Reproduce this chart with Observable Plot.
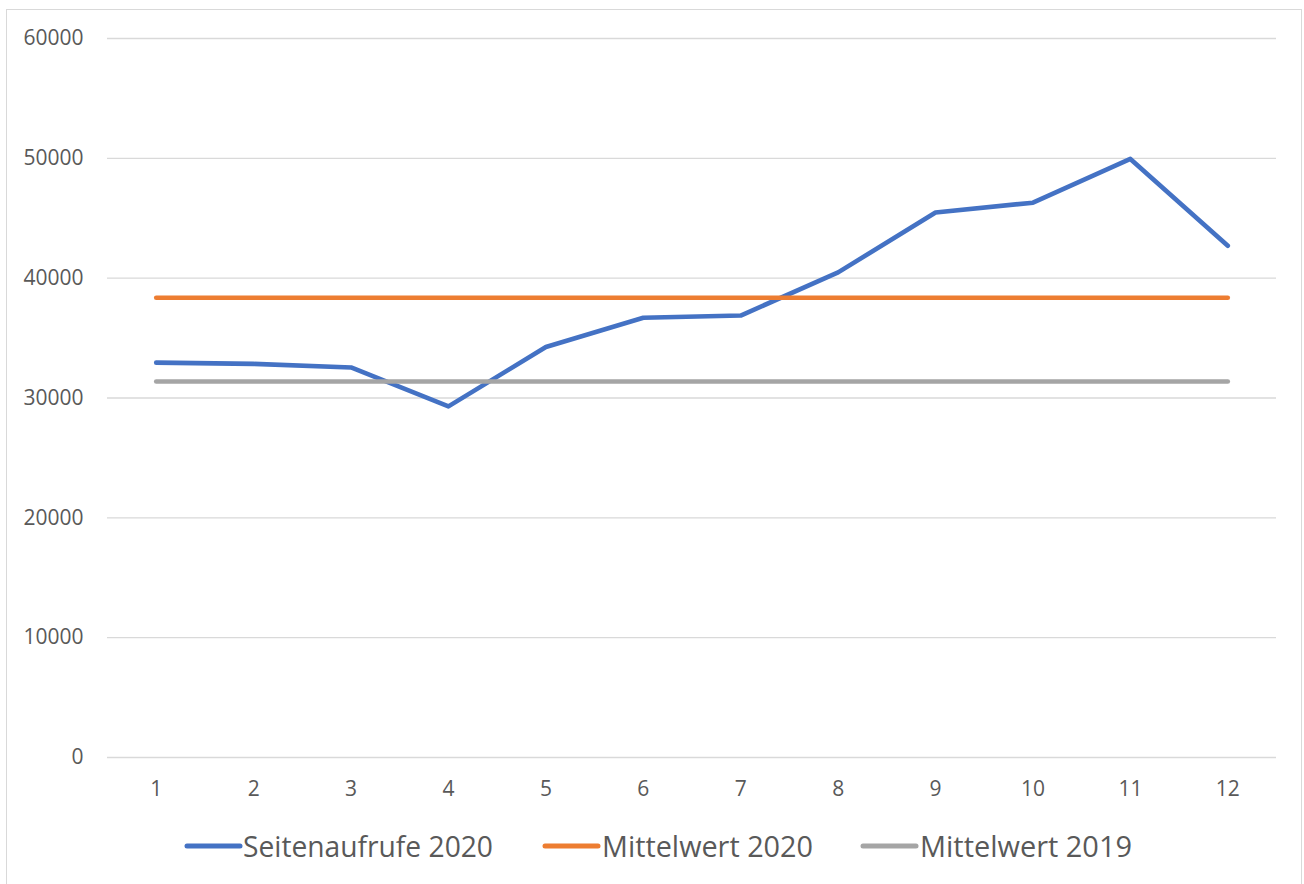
<!DOCTYPE html>
<html>
<head>
<meta charset="utf-8">
<script src="https://cdn.jsdelivr.net/npm/d3@7"></script>
<script src="https://cdn.jsdelivr.net/npm/@observablehq/plot@0.6"></script>
<style>
  html, body { margin: 0; padding: 0; background: #fff; }
  #wrap { position: relative; width: 1304px; height: 884px; overflow: hidden; }
  #frame { position: absolute; left: 6px; top: 9px; width: 1296px; height: 890px; border: 1.5px solid #d9d9d9; box-sizing: border-box; }
  #chart { position: absolute; left: 0; top: 0; }
  #legend { position: absolute; left: 0; top: 810px; }
</style>
</head>
<body>
<div id="wrap">
  <div id="frame"></div>
  <div id="chart"></div>
  <svg id="legend" width="1304" height="74"></svg>
</div>
<script>
const months = [1, 2, 3, 4, 5, 6, 7, 8, 9, 10, 11, 12];
const seitenaufrufe2020 = [32950, 32850, 32550, 29300, 34250, 36700, 36880, 40480, 45480, 46300, 49950, 42700];
const mittelwert2020 = [38360, 38360, 38360, 38360, 38360, 38360, 38360, 38360, 38360, 38360, 38360, 38360];
const mittelwert2019 = [31380, 31380, 31380, 31380, 31380, 31380, 31380, 31380, 31380, 31380, 31380, 31380];
const yTicks = [0, 10000, 20000, 30000, 40000, 50000, 60000];
const seriesNames = ["Seitenaufrufe 2020", "Mittelwert 2020", "Mittelwert 2019"];
const seriesColors = ["#4472C4", "#ED7D31", "#A5A5A5"];

const seriesValues = [seitenaufrufe2020, mittelwert2020, mittelwert2019];
const rows = seriesValues.flatMap((vals, si) =>
  months.map((m, i) => ({ month: m, value: vals[i], series: seriesNames[si] })));

const chart = Plot.plot({
  width: 1304,
  height: 810,
  marginLeft: 107,
  marginRight: 28,
  marginTop: 38,
  marginBottom: 53,
  style: { fontFamily: "'Open Sans', sans-serif", fontSize: "21px", color: "#595959", background: "transparent" },
  x: { type: "point", domain: months, padding: 0.5, round: false },
  y: { domain: [0, 60000] },
  color: { domain: seriesNames, range: seriesColors },
  marks: [
    Plot.gridY(yTicks, { stroke: "#d9d9d9", strokeOpacity: 1, strokeWidth: 1.4 }),
    Plot.axisY(yTicks, { tickSize: 0, tickPadding: 24, label: null, tickFormat: d => String(d) }),
    Plot.axisX(months, { tickSize: 0, tickPadding: 24, label: null }),
    ...seriesNames.map(name => Plot.line(rows.filter(r => r.series === name), {
      x: "month", y: "value", stroke: "series", strokeWidth: 4.6,
      strokeLinecap: "round", strokeLinejoin: "round"
    }))
  ]
});
document.getElementById("chart").appendChild(chart);

// legend
const legend = d3.select("#legend");
const items = [
  { x1: 187, x2: 240, tx: 243, tl: 250 },
  { x1: 545, x2: 598, tx: 602, tl: 211 },
  { x1: 863, x2: 916, tx: 920, tl: 212 }
];
items.forEach((it, i) => {
  legend.append("line")
    .attr("x1", it.x1).attr("x2", it.x2).attr("y1", 36).attr("y2", 36)
    .attr("stroke", seriesColors[i]).attr("stroke-width", 5).attr("stroke-linecap", "round");
  legend.append("text")
    .attr("x", it.tx).attr("y", 47)
    .attr("font-family", "'Open Sans', sans-serif").attr("font-size", 29)
    .attr("fill", "#595959")
    .attr("textLength", it.tl).attr("lengthAdjust", "spacingAndGlyphs")
    .text(seriesNames[i]);
});
</script>
</body>
</html>
